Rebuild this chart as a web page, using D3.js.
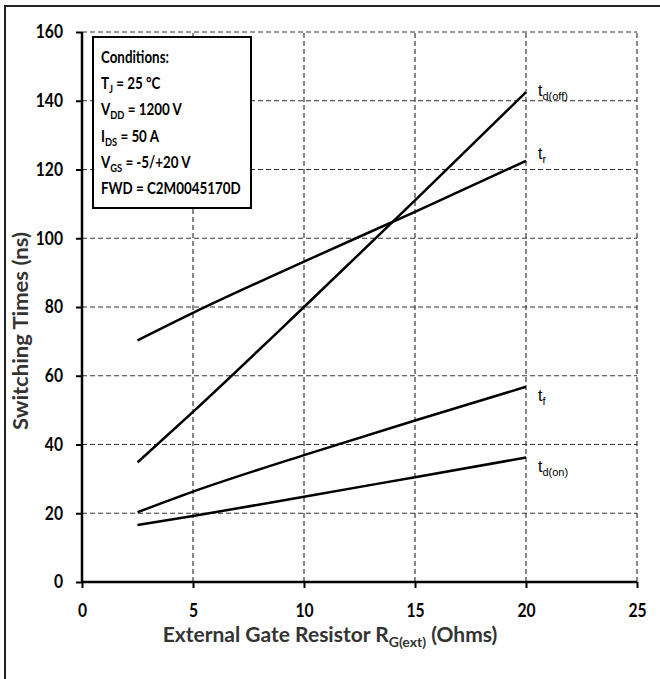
<!DOCTYPE html>
<html><head><meta charset="utf-8">
<script src="https://cdn.jsdelivr.net/npm/d3@7"></script>
<style>
html,body{margin:0;padding:0;background:#fff;}
svg{display:block;}
</style></head>
<body>
<script>
const rg = [2.5, 5, 10, 15, 20];
const tdOff = [34.8, 49.5, 80, 111, 142.5];
const tr = [70.3, 78.3, 93.2, 107.7, 122.5];
const tf = [20.3, 26.3, 36.9, 47, 56.8];
const tdOn = [16.6, 19.2, 24.8, 30.5, 36.2];
const xTicks = [0, 5, 10, 15, 20, 25];
const yTicks = [0, 20, 40, 60, 80, 100, 120, 140, 160];
const seriesNames = ["t", "t", "t", "t"];
const seriesSubs = ["d(off)", "r", "f", "d(on)"];
const seriesValues = [tdOff, tr, tf, tdOn];
const conditions = [
  [["Conditions:", ""]],
  [["T", ""], ["J", "sub"], [" = 25 °C", ""]],
  [["V", ""], ["DD", "sub"], [" = 1200 V", ""]],
  [["I", ""], ["DS", "sub"], [" = 50 A", ""]],
  [["V", ""], ["GS", "sub"], [" = -5/+20 V", ""]],
  [["FWD = C2M0045170D", ""]]
];
const xTitle = ["External Gate Resistor R", "G(ext)", " (Ohms)"];
const yTitle = "Switching Times (ns)";

const series = seriesValues.map((v, i) => ({name: seriesNames[i], sub: seriesSubs[i], values: v}));

const W = 660, H = 679;
const svg = d3.select("body").append("svg").attr("width", W).attr("height", H);
const font = "Lato, 'Open Sans', sans-serif";
const SX = 0.87; // horizontal condensing to mimic a narrow bold face

// outer frame
svg.append("rect").attr("x", 5).attr("y", 6).attr("width", 660).attr("height", 690)
  .attr("fill", "none").attr("stroke", "#222").attr("stroke-width", 2);

const x = d3.scaleLinear().domain([0, 25]).range([82, 637]);
const y = d3.scaleLinear().domain([0, 160]).range([582, 32]);

// grid
const g = svg.append("g");
g.selectAll(".vg").data(xTicks.filter(d => d > 0)).join("line")
  .attr("x1", d => x(d)).attr("x2", d => x(d)).attr("y1", y(0)).attr("y2", y(160))
  .attr("stroke", "#111").attr("stroke-width", 1).attr("stroke-dasharray", "5,3");
g.selectAll(".hg").data(yTicks.filter(d => d > 0)).join("line")
  .attr("y1", d => y(d)).attr("y2", d => y(d)).attr("x1", x(0)).attr("x2", x(25))
  .attr("stroke", "#333").attr("stroke-width", 1).attr("stroke-dasharray", "5,3");

// axes
const xAxis = d3.axisBottom(x).tickValues(xTicks).tickSize(6).tickPadding(16).tickFormat(d3.format("d"));
const yAxis = d3.axisLeft(y).tickValues(yTicks).tickSize(6).tickPadding(13).tickFormat(d3.format("d"));
const gx = svg.append("g").attr("transform", `translate(0,${y(0)})`).call(xAxis);
const gy = svg.append("g").attr("transform", `translate(${x(0)},0)`).call(yAxis);
[gx, gy].forEach(a => {
  a.select(".domain").attr("stroke", "#000").attr("stroke-width", 2.5);
  a.selectAll(".tick line").attr("stroke", "#000").attr("stroke-width", 2);
  a.selectAll("text").attr("font-family", font).attr("font-weight", "bold")
    .attr("font-size", 18).attr("fill", "#000")
    .attr("transform", function() {
      const tx = +d3.select(this).attr("x") || 0;
      return `matrix(${SX},0,0,1,${tx * (1 - SX)},0)`;
    });
});
gx.select(".domain").attr("d", `M${x(0)},0H${x(25)}`);
gy.select(".domain").attr("d", `M0,${y(0)}V${y(160)}`);

// lines
const line = d3.line().x((d, i) => x(rg[i])).y(d => y(d)).curve(d3.curveMonotoneX);
svg.selectAll(".series").data(series).join("path")
  .attr("d", d => line(d.values)).attr("fill", "none")
  .attr("stroke", "#000").attr("stroke-width", 2.5);

// series labels (vertical nudges relative to line end)
const labelNudge = [4, -2, 14, 14];
const lab = svg.selectAll(".lab").data(series).join("text")
  .attr("x", x(20) + 12)
  .attr("y", (d, i) => y(d.values[d.values.length - 1]) + labelNudge[i])
  .attr("font-family", "'Liberation Sans', Arial, sans-serif")
  .attr("font-size", 16).attr("fill", "#000");
lab.append("tspan").text(d => d.name);
lab.append("tspan").attr("dy", 4).attr("font-size", 11).text(d => d.sub);

// conditions box
svg.append("rect").attr("x", 93).attr("y", 37).attr("width", 158).attr("height", 171)
  .attr("fill", "#fff").attr("stroke", "#000").attr("stroke-width", 2);
conditions.forEach((parts, i) => {
  const t = svg.append("text")
    .attr("transform", `translate(101,${63 + i * 26.2}) scale(0.81,1)`)
    .attr("font-family", font).attr("font-weight", "bold").attr("font-size", 16.5)
    .attr("fill", "#000");
  let lowered = false;
  parts.forEach(([s, kind]) => {
    const ts = t.append("tspan").text(s);
    if (kind === "sub") { ts.attr("font-size", 11.5).attr("dy", 4); lowered = true; }
    else if (lowered) { ts.attr("dy", -4); lowered = false; }
  });
});

// axis titles
const xt = svg.append("text").attr("transform", `translate(330,642)`)
  .attr("text-anchor", "middle")
  .attr("font-family", font).attr("font-weight", "bold").attr("font-size", 21).attr("fill", "#333");
xt.append("tspan").text(xTitle[0]);
xt.append("tspan").attr("font-size", 14).attr("dy", 5).text(xTitle[1]);
xt.append("tspan").attr("dy", -5).text(xTitle[2]);

svg.append("text").attr("transform", `translate(28,331) rotate(-90)`)
  .attr("text-anchor", "middle")
  .attr("font-family", font).attr("font-weight", "bold").attr("font-size", 21).attr("fill", "#333")
  .attr("textLength", 198).attr("lengthAdjust", "spacingAndGlyphs")
  .text(yTitle);
</script>
</body></html>
